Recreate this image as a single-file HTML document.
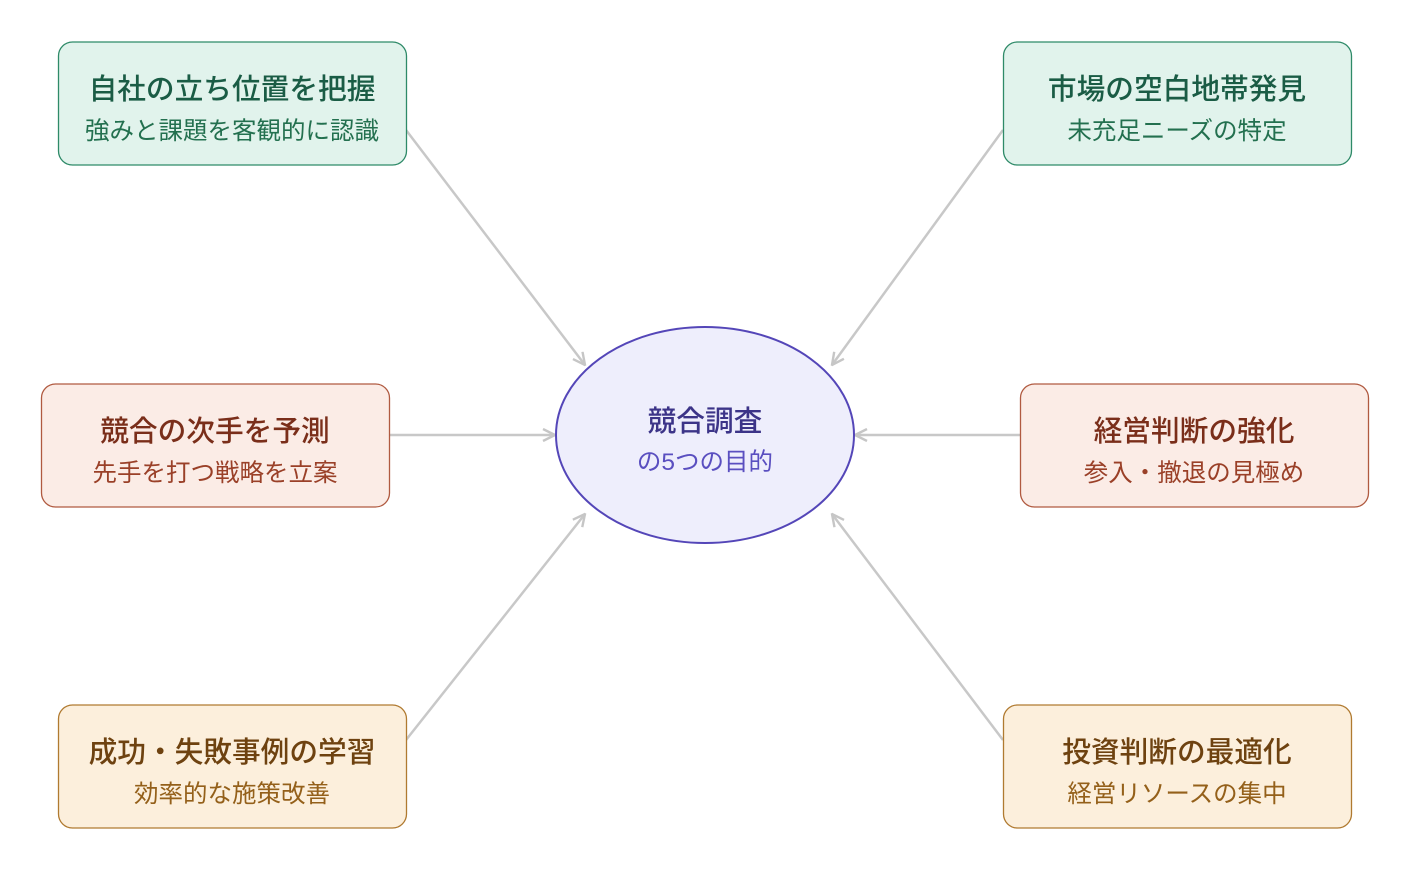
<!DOCTYPE html>
<html><head><meta charset="utf-8"><style>
html,body{margin:0;padding:0;background:#fff;}
svg text{font-family:"Liberation Sans","Noto Sans CJK JP",sans-serif;text-anchor:middle;}
.t{font-size:28.7px;font-weight:500;}
.s{font-size:24.5px;}
</style></head><body>
<svg width="1410" height="870" viewBox="0 0 1410 870" xmlns="http://www.w3.org/2000/svg">
<defs>
<marker id="a" viewBox="0 0 14 14" refX="13" refY="7" markerWidth="14" markerHeight="14" markerUnits="userSpaceOnUse" orient="auto">
<path d="M1,1 L13,7 L1,13" fill="none" stroke="#c6c6c6" stroke-width="2.4"/>
</marker>
</defs>
<g stroke="#c8c8c8" stroke-width="2.5" fill="none">
<line x1="406" y1="130" x2="585" y2="365" marker-end="url(#a)"/>
<line x1="1003" y1="130" x2="832" y2="365" marker-end="url(#a)"/>
<line x1="389" y1="435" x2="555" y2="435" marker-end="url(#a)"/>
<line x1="1020" y1="435" x2="855" y2="435" marker-end="url(#a)"/>
<line x1="406" y1="740" x2="585" y2="514" marker-end="url(#a)"/>
<line x1="1003" y1="740" x2="832" y2="514" marker-end="url(#a)"/>
</g>
<ellipse cx="705" cy="435" rx="149" ry="108" fill="#eeeefc" stroke="#5446b8" stroke-width="2"/>
<text x="705" y="431" class="t" fill="#3c3488">競合調査</text>
<text x="705" y="470" class="s" fill="#5a4fc0">の5つの目的</text>

<rect x="58.5" y="42" width="348" height="123" rx="14" fill="#e1f3ec" stroke="#2e8a68" stroke-width="1.3"/>
<text x="232" y="99" class="t" fill="#1a5c45">自社の立ち位置を把握</text>
<text x="232" y="139" class="s" fill="#23704f">強みと課題を客観的に認識</text>

<rect x="1003.5" y="42" width="348" height="123" rx="14" fill="#e1f3ec" stroke="#2e8a68" stroke-width="1.3"/>
<text x="1177" y="99" class="t" fill="#1a5c45">市場の空白地帯発見</text>
<text x="1177" y="139" class="s" fill="#23704f">未充足ニーズの特定</text>

<rect x="41.5" y="384" width="348" height="123" rx="14" fill="#fbece6" stroke="#b05a40" stroke-width="1.3"/>
<text x="215" y="441" class="t" fill="#7a2e1a">競合の次手を予測</text>
<text x="215" y="481" class="s" fill="#9a4028">先手を打つ戦略を立案</text>

<rect x="1020.5" y="384" width="348" height="123" rx="14" fill="#fbece6" stroke="#b05a40" stroke-width="1.3"/>
<text x="1194" y="441" class="t" fill="#7a2e1a">経営判断の強化</text>
<text x="1194" y="481" class="s" fill="#9a4028">参入・撤退の見極め</text>

<rect x="58.5" y="705" width="348" height="123" rx="14" fill="#fcefdc" stroke="#b07a30" stroke-width="1.3"/>
<text x="232" y="762" class="t" fill="#6e4210">成功・失敗事例の学習</text>
<text x="232" y="802" class="s" fill="#94601a">効率的な施策改善</text>

<rect x="1003.5" y="705" width="348" height="123" rx="14" fill="#fcefdc" stroke="#b07a30" stroke-width="1.3"/>
<text x="1177" y="762" class="t" fill="#6e4210">投資判断の最適化</text>
<text x="1177" y="802" class="s" fill="#94601a">経営リソースの集中</text>
</svg>
</body></html>
